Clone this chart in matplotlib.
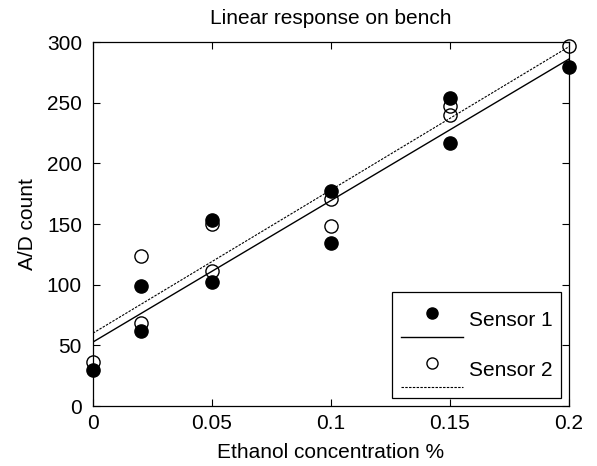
import numpy as np
import matplotlib
matplotlib.use("Agg")
import matplotlib.pyplot as plt
from matplotlib.lines import Line2D
from matplotlib.legend_handler import HandlerBase

# Ethanol concentration (%) and A/D readings for the two sensors
conc = [0, 0.02, 0.02, 0.05, 0.05, 0.1, 0.1, 0.15, 0.15, 0.2]
sensor1 = [30, 99, 62, 153, 102, 177, 134, 254, 217, 279]
sensor2 = [36, 124, 68, 150, 111, 171, 148, 247, 240, 297]

xticks = [0, 0.05, 0.1, 0.15, 0.2]
xticklabels = ["0", "0.05", "0.1", "0.15", "0.2"]
yticks = [0, 50, 100, 150, 200, 250, 300]

FS = 15
plt.rcParams["font.family"] = ["Liberation Sans", "DejaVu Sans"]
plt.rcParams["font.size"] = FS


class MarkerOverLine(HandlerBase):
    """Legend handle with the marker drawn above a short line sample."""

    def create_artists(self, legend, orig_handle, xdescent, ydescent,
                       width, height, fontsize, trans):
        marker, line = orig_handle
        x0 = -xdescent
        x1 = -xdescent + width
        m = Line2D([(x0 + x1) / 2], [-ydescent + height * 0.68])
        m.update_from(marker)
        m.set_linestyle("none")
        m.set_markersize(8)
        l = Line2D([x0, x1], [-ydescent + height * 0.07] * 2)
        l.update_from(line)
        l.set_marker("")
        m.set_transform(trans)
        l.set_transform(trans)
        return [l, m]


fig = plt.figure(figsize=(5.97, 4.66), dpi=100)
ax = fig.add_axes([93 / 597, 60 / 466, 476 / 597, 364 / 466])

x = np.array(conc)
y1 = np.array(sensor1)
y2 = np.array(sensor2)

# least-squares fits
p1 = np.polyfit(x, y1, 1)
p2 = np.polyfit(x, y2, 1)
xf = np.array([0, 0.2])

ms = 9.5
m2, = ax.plot(x, y2, "o", ms=ms, mfc="none", mec="k", mew=1.0, clip_on=False, zorder=3)
m1, = ax.plot(x, y1, "o", ms=ms, mfc="k", mec="k", mew=1.0, clip_on=False, zorder=4)
l1, = ax.plot(xf, np.polyval(p1, xf), "-", color="k", lw=1.0, zorder=2)
l2, = ax.plot(xf, np.polyval(p2, xf), color="k", lw=0.8, ls=(0, (2.2, 1.2)), zorder=2)

ax.set_xlim(0, 0.2)
ax.set_ylim(0, 300)
ax.set_xticks(xticks)
ax.set_xticklabels(xticklabels)
ax.set_yticks(yticks)
ax.tick_params(direction="in", length=5, width=0.8, top=True, right=True,
               labelsize=FS)
ax.tick_params(axis="x", pad=6)
ax.tick_params(axis="y", pad=8)
for s in ax.spines.values():
    s.set_linewidth(0.9)

ax.set_title("Linear response on bench", fontsize=FS, pad=13)
ax.set_xlabel("Ethanol concentration %", fontsize=FS, labelpad=7)
ax.set_ylabel("A/D count", fontsize=FS, labelpad=7)

h1 = (m1, l1)
h2 = (m2, l2)
leg = ax.legend([h1, h2], ["Sensor 1", "Sensor 2"],
                handler_map={h1: MarkerOverLine(), h2: MarkerOverLine()},
                loc="lower right", fontsize=FS, handlelength=3.0,
                handleheight=2.55, handletextpad=0.3, labelspacing=0.5,
                borderpad=0.39, borderaxespad=0.38, fancybox=False,
                framealpha=1, edgecolor="k")
leg.get_frame().set_linewidth(0.9)

fig.savefig("out.png", dpi=100)
